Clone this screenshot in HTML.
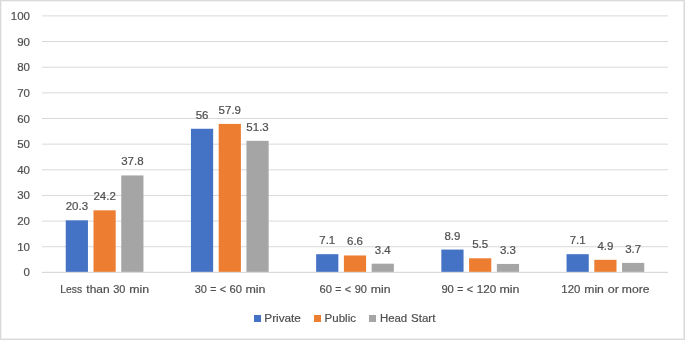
<!DOCTYPE html>
<html><head><meta charset="utf-8"><style>
html,body{margin:0;padding:0;background:#fff;}
body{width:685px;height:340px;overflow:hidden;}
svg{display:block;will-change:transform;}
text{font-family:"Liberation Sans",sans-serif;font-size:11.5px;fill:#4f4f4f;stroke:#4f4f4f;stroke-width:0.2px;}
</style></head><body>
<svg width="685" height="340" viewBox="0 0 685 340">
<rect x="0" y="0" width="685" height="340" fill="#fff"/>
<rect x="0" y="1" width="685" height="1" fill="#f3f3f3"/>
<rect x="1" y="0" width="1" height="340" fill="#f1f1f1"/>
<rect x="683" y="0" width="1" height="340" fill="#e9e9e9"/>
<rect x="0" y="338" width="685" height="1" fill="#efefef"/>
<rect x="0" y="0" width="685" height="1" fill="#dadada"/>
<rect x="0" y="0" width="1" height="340" fill="#d9d9d9"/>
<rect x="684" y="0" width="1" height="340" fill="#dadada"/>
<rect x="0" y="339" width="685" height="1" fill="#dadada"/>
<rect x="42.0" y="271.90" width="626.00" height="1" fill="#d9d9d9"/>
<text transform="translate(30.00,276.40) scale(1.0,1)" text-anchor="end">0</text>
<rect x="42.0" y="246.25" width="626.00" height="1" fill="#d9d9d9"/>
<text transform="translate(30.00,250.75) scale(1.0,1)" text-anchor="end">10</text>
<rect x="42.0" y="220.60" width="626.00" height="1" fill="#d9d9d9"/>
<text transform="translate(30.00,225.10) scale(1.0,1)" text-anchor="end">20</text>
<rect x="42.0" y="194.95" width="626.00" height="1" fill="#d9d9d9"/>
<text transform="translate(30.00,199.45) scale(1.0,1)" text-anchor="end">30</text>
<rect x="42.0" y="169.30" width="626.00" height="1" fill="#d9d9d9"/>
<text transform="translate(30.00,173.80) scale(1.0,1)" text-anchor="end">40</text>
<rect x="42.0" y="143.65" width="626.00" height="1" fill="#d9d9d9"/>
<text transform="translate(30.00,148.15) scale(1.0,1)" text-anchor="end">50</text>
<rect x="42.0" y="118.00" width="626.00" height="1" fill="#d9d9d9"/>
<text transform="translate(30.00,122.50) scale(1.0,1)" text-anchor="end">60</text>
<rect x="42.0" y="92.35" width="626.00" height="1" fill="#d9d9d9"/>
<text transform="translate(30.00,96.85) scale(1.0,1)" text-anchor="end">70</text>
<rect x="42.0" y="66.70" width="626.00" height="1" fill="#d9d9d9"/>
<text transform="translate(30.00,71.20) scale(1.0,1)" text-anchor="end">80</text>
<rect x="42.0" y="41.05" width="626.00" height="1" fill="#d9d9d9"/>
<text transform="translate(30.00,45.55) scale(1.0,1)" text-anchor="end">90</text>
<rect x="42.0" y="15.40" width="626.00" height="1" fill="#d9d9d9"/>
<text transform="translate(30.00,19.90) scale(1.0,1)" text-anchor="end">100</text>
<rect x="65.75" y="220.33" width="22.20" height="51.57" fill="#4472c4"/>
<text transform="translate(76.85,210.33) scale(1.0,1)" text-anchor="middle">20.3</text>
<rect x="93.50" y="210.33" width="22.20" height="61.57" fill="#ed7d31"/>
<text transform="translate(104.60,200.33) scale(1.0,1)" text-anchor="middle">24.2</text>
<rect x="121.25" y="175.44" width="22.20" height="96.46" fill="#a5a5a5"/>
<text transform="translate(132.35,165.44) scale(1.0,1)" text-anchor="middle">37.8</text>
<text transform="translate(60.31,293.00) scale(0.900,1)">Less</text>
<text transform="translate(86.30,293.00) scale(1.044,1)">than</text>
<text transform="translate(113.16,293.00) scale(0.955,1)">30</text>
<text transform="translate(129.23,293.00) scale(1.078,1)">min</text>
<rect x="190.95" y="128.76" width="22.20" height="143.14" fill="#4472c4"/>
<text transform="translate(202.05,118.76) scale(1.0,1)" text-anchor="middle">56</text>
<rect x="218.70" y="123.89" width="22.20" height="148.01" fill="#ed7d31"/>
<text transform="translate(229.80,113.89) scale(1.0,1)" text-anchor="middle">57.9</text>
<rect x="246.45" y="140.82" width="22.20" height="131.08" fill="#a5a5a5"/>
<text transform="translate(257.55,130.82) scale(1.0,1)" text-anchor="middle">51.3</text>
<text transform="translate(194.66,293.00) scale(0.955,1)">30</text>
<text transform="translate(210.31,293.00) scale(0.900,1)">=</text>
<text transform="translate(219.73,293.00) scale(0.939,1)"><</text>
<text transform="translate(229.56,293.00) scale(0.971,1)">60</text>
<text transform="translate(245.42,293.00) scale(1.084,1)">min</text>
<rect x="316.15" y="254.19" width="22.20" height="17.71" fill="#4472c4"/>
<text transform="translate(327.25,244.19) scale(1.0,1)" text-anchor="middle">7.1</text>
<rect x="343.90" y="255.47" width="22.20" height="16.43" fill="#ed7d31"/>
<text transform="translate(355.00,245.47) scale(1.0,1)" text-anchor="middle">6.6</text>
<rect x="371.65" y="263.68" width="22.20" height="8.22" fill="#a5a5a5"/>
<text transform="translate(382.75,253.68) scale(1.0,1)" text-anchor="middle">3.4</text>
<text transform="translate(319.41,293.00) scale(0.975,1)">60</text>
<text transform="translate(335.36,293.00) scale(0.900,1)">=</text>
<text transform="translate(344.83,293.00) scale(0.939,1)"><</text>
<text transform="translate(354.69,293.00) scale(0.961,1)">90</text>
<text transform="translate(370.73,293.00) scale(1.067,1)">min</text>
<rect x="441.35" y="249.57" width="22.20" height="22.33" fill="#4472c4"/>
<text transform="translate(452.45,239.57) scale(1.0,1)" text-anchor="middle">8.9</text>
<rect x="469.10" y="258.29" width="22.20" height="13.61" fill="#ed7d31"/>
<text transform="translate(480.20,248.29) scale(1.0,1)" text-anchor="middle">5.5</text>
<rect x="496.85" y="263.94" width="22.20" height="7.96" fill="#a5a5a5"/>
<text transform="translate(507.95,253.94) scale(1.0,1)" text-anchor="middle">3.3</text>
<text transform="translate(441.38,293.00) scale(0.977,1)">90</text>
<text transform="translate(457.36,293.00) scale(0.900,1)">=</text>
<text transform="translate(466.83,293.00) scale(0.939,1)"><</text>
<text transform="translate(476.84,293.00) scale(1.015,1)">120</text>
<text transform="translate(499.42,293.00) scale(1.084,1)">min</text>
<rect x="566.55" y="254.19" width="22.20" height="17.71" fill="#4472c4"/>
<text transform="translate(577.65,244.19) scale(1.0,1)" text-anchor="middle">7.1</text>
<rect x="594.30" y="259.83" width="22.20" height="12.07" fill="#ed7d31"/>
<text transform="translate(605.40,249.83) scale(1.0,1)" text-anchor="middle">4.9</text>
<rect x="622.05" y="262.91" width="22.20" height="8.99" fill="#a5a5a5"/>
<text transform="translate(633.15,252.91) scale(1.0,1)" text-anchor="middle">3.7</text>
<text transform="translate(561.36,293.00) scale(0.993,1)">120</text>
<text transform="translate(584.24,293.00) scale(1.061,1)">min</text>
<text transform="translate(607.79,293.00) scale(1.087,1)">or</text>
<text transform="translate(621.84,293.00) scale(1.057,1)">more</text>
<rect x="42.0" y="271.90" width="626.00" height="1" fill="#d9d9d9"/>
<rect x="254" y="315" width="7" height="7" fill="#4472c4"/>
<rect x="314" y="315" width="7" height="7" fill="#ed7d31"/>
<rect x="369" y="315" width="7" height="7" fill="#a5a5a5"/>
<text transform="translate(264.30,322.00) scale(1.023,1)">Private</text>
<text transform="translate(324.62,322.00) scale(1.002,1)">Public</text>
<text transform="translate(379.93,322.00) scale(0.992,1)">Head</text>
<text transform="translate(411.02,322.00) scale(1.004,1)">Start</text>
</svg>
</body></html>
